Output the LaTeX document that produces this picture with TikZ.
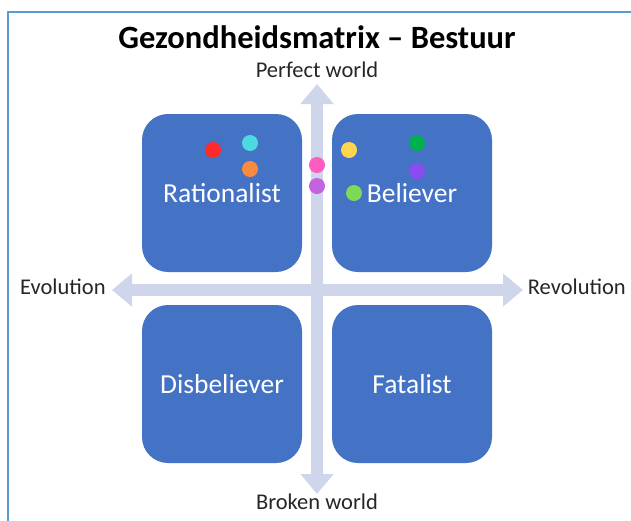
\documentclass[tikz,border=0pt]{standalone}
\usepackage{fontspec}
\setmainfont{Carlito}
\usetikzlibrary{arrows.meta}
\definecolor{boxblue}{HTML}{4472C4}
\definecolor{axisgrey}{HTML}{CFD5EA}
\definecolor{framecol}{HTML}{5B9BD5}
\definecolor{dred}{HTML}{FF2A2A}
\definecolor{dcyan}{HTML}{4ED9E0}
\definecolor{dorange}{HTML}{F98A3F}
\definecolor{dpink}{HTML}{FF5CC0}
\definecolor{dviolet}{HTML}{C462E0}
\definecolor{dyellow}{HTML}{FFD54F}
\definecolor{dgreen}{HTML}{00B050}
\definecolor{dpurple}{HTML}{8A4CF0}
\definecolor{dlime}{HTML}{7ED957}
\tikzset{
  quad/.style={fill=boxblue, rounded corners=26pt, minimum width=160pt, minimum height=158pt, inner sep=0pt},
  quadtext/.style={text=white, font=\fontsize{27.5}{30}\selectfont},
  axislabel/.style={font=\fontsize{22.5}{25}\selectfont, text=black!85},
  axis/.style={axisgrey, line width=12pt, -{Triangle[width=32pt,length=20pt]}},
  dot/.style={circle, inner sep=0pt, minimum size=16pt}
}
\begin{document}
\begin{tikzpicture}[x=1pt,y=-1pt]
\useasboundingbox (0,0) rectangle (631,520);
\fill[white] (0,0) rectangle (631,520);
% frame
\draw[framecol, line width=2pt] (8,525) -- (8,12) -- (640,12);
% title
\node[font=\bfseries\fontsize{32.5}{36}\selectfont] (title) at (317,37) {Gezondheidsmatrix – Bestuur};
% quadrants
\node[quad] (rat) at (222,193) {};
\node[quad] (bel) at (412,193) {};
\node[quad] (dis) at (222,384) {};
\node[quad] (fat) at (412,384) {};
% axes
\coordinate (c) at (317,290);
\coordinate (top) at (317,84);
\coordinate (bot) at (317,494);
\coordinate (lft) at (112,290);
\coordinate (rgt) at (523,290);
\draw[axis] (c) -- (top);
\draw[axis] (c) -- (bot);
\draw[axis] (c) -- (lft);
\draw[axis] (c) -- (rgt);
% quadrant labels
\node[quadtext] (ratl) at (222,193) {Rationalist};
\node[quadtext] (bell) at (412,193) {Believer};
\node[quadtext] (disl) at (222,384) {Disbeliever};
\node[quadtext] (fatl) at (412,384) {Fatalist};
% axis labels
\node[axislabel] (pw) at (317,70) {Perfect world};
\node[axislabel] (bw) at (317,502) {Broken world};
\node[axislabel, anchor=west, inner sep=0pt] (ev) at (20,287) {Evolution};
\node[axislabel, anchor=east, inner sep=0pt] (rev) at (626,287) {Revolution};
% dots
\node[dot, fill=dred] (d1) at (213,150) {};
\node[dot, fill=dcyan] (d2) at (250,143) {};
\node[dot, fill=dorange] (d3) at (250,169) {};
\node[dot, fill=dpink] (d4) at (317,165) {};
\node[dot, fill=dviolet] (d5) at (317,186) {};
\node[dot, fill=dyellow] (d6) at (349,150) {};
\node[dot, fill=dgreen] (d7) at (417,143) {};
\node[dot, fill=dpurple] (d8) at (417,171) {};
\node[dot, fill=dlime] (d9) at (354,193) {};
\end{tikzpicture}
\end{document}
